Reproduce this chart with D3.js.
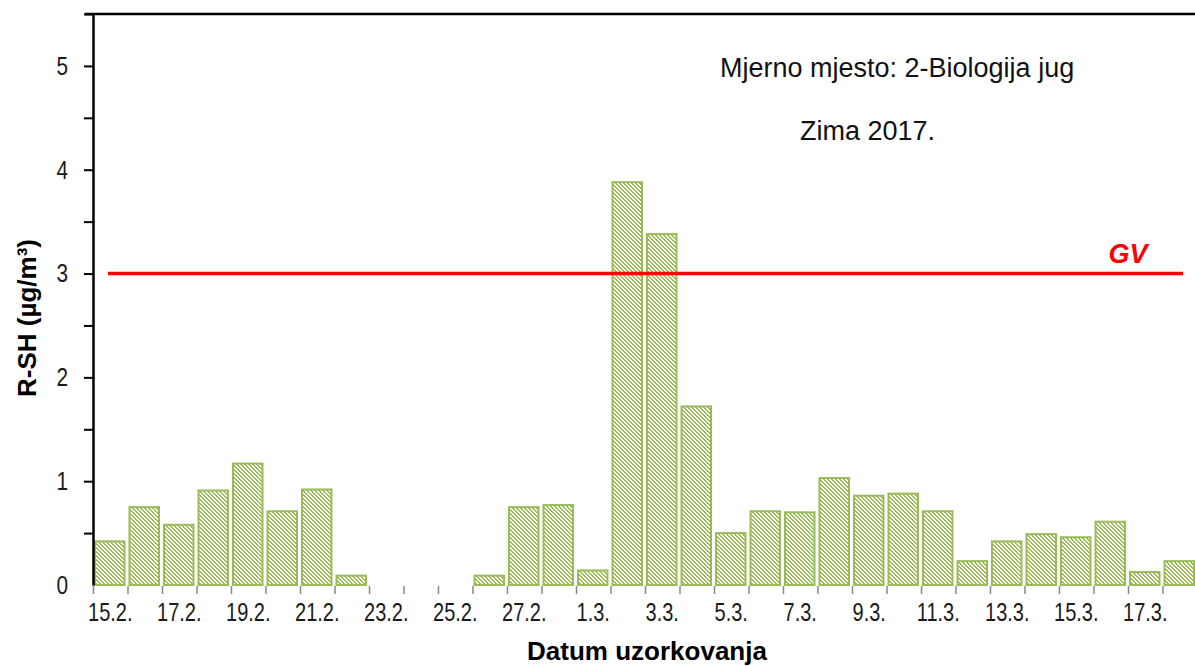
<!DOCTYPE html>
<html>
<head>
<meta charset="utf-8">
<script src="https://cdn.jsdelivr.net/npm/d3@7"></script>
<style>
  body { margin: 0; background: #fff; }
  svg { display: block; font-family: Arial, "Liberation Sans", sans-serif; }
</style>
</head>
<body>
<svg id="chart"></svg>
<script>
// sampling days, winter 2017 (15.2. - 18.3.)
const dates = ["15.2.", "16.2.", "17.2.", "18.2.", "19.2.", "20.2.", "21.2.", "22.2.",
  "23.2.", "24.2.", "25.2.", "26.2.", "27.2.", "28.2.", "1.3.", "2.3.", "3.3.", "4.3.",
  "5.3.", "6.3.", "7.3.", "8.3.", "9.3.", "10.3.", "11.3.", "12.3.", "13.3.", "14.3.",
  "15.3.", "16.3.", "17.3.", "18.3."];
// R-SH concentration (ug/m3), null = no sample
const values = [0.42, 0.75, 0.58, 0.91, 1.17, 0.71, 0.92, 0.09,
  null, null, null, 0.09, 0.75, 0.77, 0.14, 3.88, 3.38, 1.72,
  0.50, 0.71, 0.70, 1.03, 0.86, 0.88, 0.71, 0.23, 0.42, 0.49,
  0.46, 0.61, 0.125, 0.23];
const tickLabels = dates.filter((d, i) => i % 2 === 0);
const yTicks = [0, 0.5, 1, 1.5, 2, 2.5, 3, 3.5, 4, 4.5, 5, 5.5];
const limitValue = 3;   // GV
const titleLine1 = "Mjerno mjesto: 2-Biologija jug";
const titleLine2 = "Zima 2017.";

const W = 1195, H = 666;
const margin = {top: 14, left: 93, bottom: 81};
const bandW = 34.5;

const svg = d3.select("#chart").attr("width", W).attr("height", H);

const x = d3.scaleBand()
  .domain(dates)
  .range([margin.left, margin.left + bandW * dates.length])
  .padding(0);
const xIdx = d3.scaleLinear()
  .domain([0, dates.length])
  .range(x.range());
const y = d3.scaleLinear()
  .domain([0, 5.5])
  .range([H - margin.bottom, margin.top]);

// hatch pattern for bars (pixel diagonal, 2px green / 2px white)
const defs = svg.append("defs");
const pat = defs.append("pattern")
  .attr("id", "hatch")
  .attr("patternUnits", "userSpaceOnUse")
  .attr("width", 4).attr("height", 4);
pat.append("rect").attr("width", 4).attr("height", 4).attr("fill", "#fff");
d3.range(4).forEach(i => {
  [i, (i + 1) % 4].forEach(c => {
    pat.append("rect")
      .attr("x", c).attr("y", i)
      .attr("width", 1).attr("height", 1)
      .attr("fill", "#9bbb59")
      .attr("shape-rendering", "crispEdges");
  });
});

// bars
const bars = dates.map((d, i) => ({date: d, v: values[i]})).filter(d => d.v !== null);
svg.append("g")
  .selectAll("rect")
  .data(bars)
  .enter().append("rect")
  .attr("x", d => x(d.date) + 2)
  .attr("width", x.bandwidth() - 5)
  .attr("y", d => y(d.v))
  .attr("height", d => y(0) - y(d.v))
  .attr("fill", "url(#hatch)")
  .attr("stroke", "#9bbb59")
  .attr("stroke-width", 2);

// x boundary ticks
const xTicks = svg.append("g")
  .attr("transform", `translate(0,${y(0) + 1})`)
  .call(d3.axisBottom(xIdx).tickValues(d3.range(dates.length + 1)).tickFormat("").tickSize(8).tickSizeOuter(0));
xTicks.select(".domain").remove();
xTicks.selectAll("line").attr("stroke", "#888").attr("stroke-width", 1.5);

// x labels
const xLab = svg.append("g")
  .attr("transform", `translate(0,${y(0)})`)
  .call(d3.axisBottom(x).tickValues(tickLabels).tickSize(0).tickPadding(18));
xLab.select(".domain").remove();
xLab.selectAll("text")
  .attr("font-size", 25)
  .attr("font-family", "Arial, 'Liberation Sans', sans-serif")
  .attr("fill", "#1a1a1a")
  .attr("transform", "scale(0.8,1)");

// y axis
const yAx = svg.append("g")
  .attr("transform", `translate(${margin.left},0)`)
  .call(d3.axisLeft(y).tickValues(yTicks).tickSize(9).tickSizeOuter(0)
    .tickFormat(d => Number.isInteger(d) ? d : ""));
yAx.select(".domain").attr("stroke", "#000").attr("stroke-width", 2.5);
yAx.selectAll("line").attr("stroke", "#000").attr("stroke-width", 2)
  .attr("opacity", d => d === 0 ? 0 : 1);
yAx.selectAll("text")
  .attr("font-size", 26)
  .attr("font-family", "Arial, 'Liberation Sans', sans-serif")
  .attr("fill", "#1a1a1a")
  .attr("x", -25 / 0.8)
  .attr("transform", "scale(0.8,1)");

// top frame
svg.append("line")
  .attr("x1", margin.left - 8).attr("x2", x.range()[1])
  .attr("y1", y(5.5)).attr("y2", y(5.5))
  .attr("stroke", "#000").attr("stroke-width", 2.5);
svg.append("line")
  .attr("x1", x.range()[1]).attr("x2", x.range()[1])
  .attr("y1", y(5.5)).attr("y2", y(0))
  .attr("stroke", "#000").attr("stroke-width", 2.5);

// GV limit line
svg.append("line")
  .attr("x1", margin.left + 15).attr("x2", x.range()[1] - 14)
  .attr("y1", y(limitValue)).attr("y2", y(limitValue))
  .attr("stroke", "#ff0000").attr("stroke-width", 3.5);
svg.append("text")
  .attr("x", 1128).attr("y", y(limitValue) - 11)
  .attr("text-anchor", "middle")
  .attr("font-size", 27).attr("font-weight", "bold").attr("font-style", "italic")
  .attr("fill", "#ff0000")
  .text("GV");

// titles
svg.append("text")
  .attr("x", 720).attr("y", 77)
  .attr("font-size", 27).attr("fill", "#111")
  .text(titleLine1);
svg.append("text")
  .attr("x", 800).attr("y", 140)
  .attr("font-size", 27).attr("fill", "#111")
  .text(titleLine2);

// axis titles
svg.append("text")
  .attr("x", 647).attr("y", 660)
  .attr("text-anchor", "middle")
  .attr("font-size", 26).attr("font-weight", "bold").attr("fill", "#000")
  .text("Datum uzorkovanja");
svg.append("text")
  .attr("transform", "translate(36,318) rotate(-90)")
  .attr("text-anchor", "middle")
  .attr("font-size", 26).attr("font-weight", "bold").attr("fill", "#000")
  .text("R-SH (µg/m³)");
</script>
</body>
</html>
